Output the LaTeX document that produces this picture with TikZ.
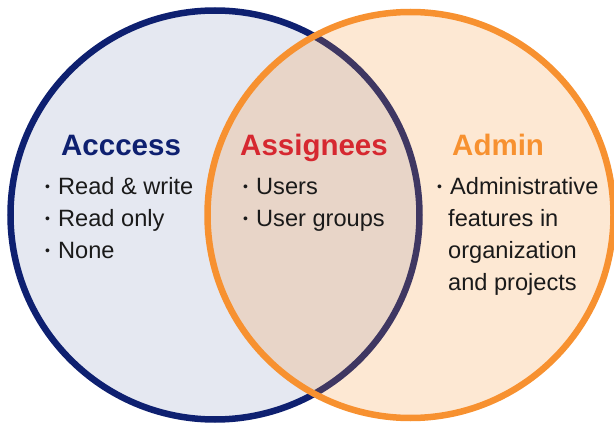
\documentclass[tikz,border=0pt]{standalone}
\usepackage{fontspec}
\setmainfont{Liberation Sans}
\definecolor{navy}{RGB}{14,32,112}
\definecolor{leftfill}{RGB}{229,232,241}
\definecolor{orng}{RGB}{247,145,48}
\definecolor{redt}{RGB}{214,40,48}
\definecolor{ink}{RGB}{26,26,26}
\newcommand\bul{\makebox[13pt][l]{\raisebox{2.2pt}{\fontsize{14}{14}\selectfont •}}}
\begin{document}
\begin{tikzpicture}[x=1pt,y=-1pt,
  txt/.style={anchor=base west, inner sep=0pt, text=ink, font=\fontsize{23.6}{28}\selectfont},
  ttl/.style={anchor=base west, inner sep=0pt, font=\fontsize{29.5}{32}\selectfont\bfseries},
  ring/.style={circle, inner sep=0pt, line width=6.5pt}]
\useasboundingbox (0,0) rectangle (614,423);
\node (acc) [ring, draw=navy, fill=leftfill, minimum size=409pt] at (215,215) {};
\node (adm) [ring, draw=orng, fill=orng, fill opacity=0.21, draw opacity=1, minimum size=406pt] at (410.5,215) {};
% titles
\node (t1) [ttl, text=navy] at (61,155) {Acccess};
\node (t2) [ttl, text=redt] at (240,155) {Assignees};
\node (t3) [ttl, text=orng] at (452,155) {Admin};
% access items
\node (a1) [txt] at (45,194) {\bul Read \& write};
\node (a2) [txt] at (45,226) {\bul Read only};
\node (a3) [txt] at (45,258) {\bul None};
% assignees items
\node (s1) [txt] at (243,194) {\bul Users};
\node (s2) [txt] at (243,226) {\bul User groups};
% admin items
\node (m1) [txt] at (437,194) {\bul Administrative};
\node (m2) [txt] at (448,226) {features in};
\node (m3) [txt] at (448,258) {organization};
\node (m4) [txt] at (448,290) {and projects};
\end{tikzpicture}
\end{document}
